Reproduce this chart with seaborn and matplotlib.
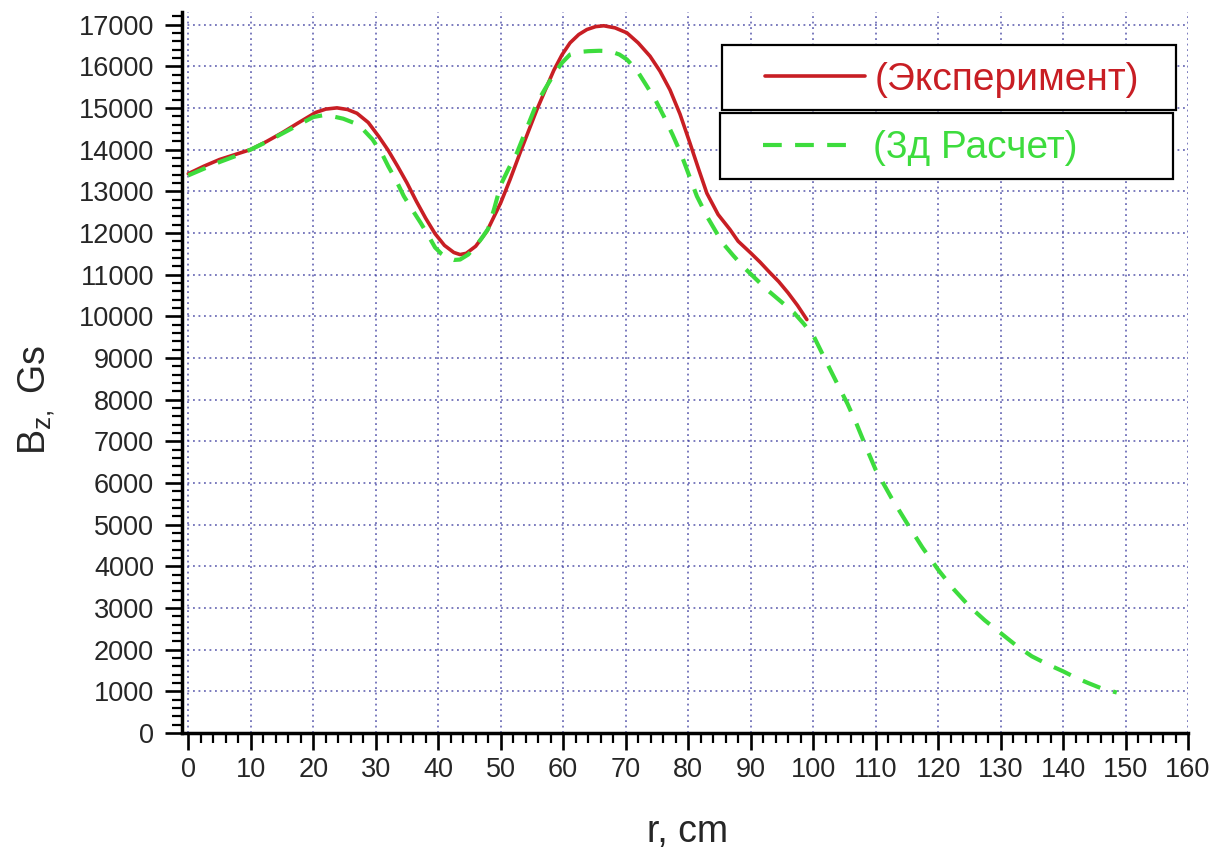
import matplotlib
matplotlib.use("Agg")
import matplotlib.pyplot as plt
import matplotlib.patches as mpatches
from matplotlib.ticker import MultipleLocator, FuncFormatter
import pandas as pd
import seaborn as sns

# ---- data ----
exp_r = [0, 2.5, 5, 7.5, 10, 12.5, 15, 17.5, 20.4, 22, 23.8, 25.5, 27, 28.8,
         30.5, 32, 33.5, 35, 36.5, 38, 39.5, 41, 42.5, 43.5, 44.5, 46, 47.8,
         50, 51.5, 53.1, 54.5, 55.8, 57.2, 58.5, 59.8, 61.1, 62.5, 63.8, 65.2,
         66.5, 68.3, 70.2, 72, 73.9, 75.5, 77.1, 78.7, 80.3, 81.7, 83, 84.8,
         86.7, 88, 90, 91.5, 93, 94.5, 96, 97.5, 99]
exp_b = [13420, 13600, 13760, 13880, 14000, 14190, 14400, 14630, 14890, 14970,
         15000, 14960, 14870, 14650, 14310, 13980, 13600, 13200, 12760, 12350,
         11980, 11700, 11530, 11480, 11510, 11680, 12040, 12720, 13280, 13920,
         14460, 14960, 15450, 15900, 16270, 16560, 16760, 16880, 16950, 16970,
         16920, 16800, 16560, 16240, 15880, 15430, 14850, 14150, 13520, 12950,
         12440, 12080, 11800, 11520, 11300, 11060, 10830, 10560, 10260, 9920]

calc_r = [0, 2.5, 5, 7.5, 10, 12.5, 15, 17.5, 20, 21.5, 23, 24.8, 26.5, 28,
          29.5, 31, 32, 33.3, 34.5, 36, 37.2, 38.4, 39.5, 40.5, 41.5, 42.5, 43.5,
          44.8, 46, 47, 48, 49, 50, 51.3, 52.6, 54.2, 55.8, 57.2, 58.5, 59.8,
          61.1, 62.5, 64, 65.8, 67.5, 69, 70.2, 71.8, 73.4, 74.8, 76.1, 77.5,
          78.8, 80.1, 81.4, 83, 85.5, 87.2, 89, 90.8, 92.6, 94.8, 96.9, 98.5,
          100.1, 102.3, 103.8, 105.5, 107, 108.5, 110, 112.5, 115, 117.5, 120,
          122.5, 125, 127.5, 130, 132.5, 135, 137.5, 140, 142, 144, 146, 148.6]
calc_b = [13380, 13540, 13700, 13840, 14000, 14180, 14380, 14580, 14780, 14820,
          14800, 14740, 14640, 14480, 14240, 13900, 13600, 13250, 12880, 12520,
          12240, 11940, 11650, 11500, 11400, 11350, 11360, 11480, 11680, 11880,
          12100, 12600, 13150, 13550, 13920, 14520, 15120, 15480, 15800, 16080,
          16280, 16340, 16360, 16370, 16360, 16280, 16160, 15900, 15520, 15180,
          14800, 14360, 13920, 13400, 12880, 12400, 11760, 11460, 11160, 10900,
          10640, 10360, 10090, 9820, 9520, 8850, 8400, 7900, 7400, 6850, 6320,
          5650, 5040, 4450, 3920, 3450, 3040, 2700, 2400, 2100, 1840, 1650, 1480,
          1330, 1200, 1080, 970]

label_exp = "(Эксперимент)"
label_calc = "(3д Расчет)"
x_label = "r, cm"
y_label = r"B$_{\mathregular{z,}}$ Gs"

RED = "#c81e24"
GREEN = "#3ddc3d"
GRID = "#3b3b9e"

sns.set_style("white")
plt.rcParams["font.family"] = ["Liberation Sans", "DejaVu Sans"]
plt.rcParams["mathtext.fontset"] = "custom"
plt.rcParams["mathtext.rm"] = "Liberation Sans"
plt.rcParams["mathtext.it"] = "Liberation Sans"
plt.rcParams["lines.solid_capstyle"] = "round"
plt.rcParams["lines.solid_joinstyle"] = "round"
plt.rcParams["lines.dash_joinstyle"] = "round"

fig = plt.figure(figsize=(12.24, 8.52), dpi=100)
ax = fig.add_axes([0.1487, 0.1397, 0.8219, 0.8462])

df_exp = pd.DataFrame({"r": exp_r, "B": exp_b})
df_calc = pd.DataFrame({"r": calc_r, "B": calc_b})

sns.lineplot(data=df_exp, x="r", y="B", ax=ax, color=RED, linewidth=2.6,
             sort=False, zorder=3)
sns.lineplot(data=df_calc, x="r", y="B", ax=ax, color=GREEN, linewidth=3.0,
             linestyle=(0, (4.5, 3.2)), sort=False, zorder=3)
line_exp, line_calc = ax.lines[0], ax.lines[1]

ax.set_xlim(-1, 160)
ax.set_ylim(0, 17300)

ax.xaxis.set_major_locator(MultipleLocator(10))
ax.xaxis.set_minor_locator(MultipleLocator(2))
ax.yaxis.set_major_locator(MultipleLocator(1000))
ax.yaxis.set_minor_locator(MultipleLocator(200))
ax.yaxis.set_major_formatter(FuncFormatter(lambda v, p: f"{int(round(v))}"))
ax.xaxis.set_major_formatter(FuncFormatter(lambda v, p: f"{int(round(v))}"))

ax.grid(True, which="major", color=GRID, linestyle=(0, (1.2, 2.4)),
        linewidth=1.1, alpha=0.85)
ax.set_axisbelow(True)

ax.tick_params(which="both", bottom=True, left=True, top=False, right=False,
               direction="out", color="black")
ax.tick_params(which="major", length=12, width=1.9, labelsize=19.5)
ax.tick_params(which="minor", length=7, width=1.6)
ax.tick_params(axis="x", which="major", pad=5)
ax.tick_params(axis="y", which="major", pad=8)

for s in ["top", "right"]:
    ax.spines[s].set_visible(False)
for s in ["left", "bottom"]:
    ax.spines[s].set_linewidth(2.5)
    ax.spines[s].set_color("black")

ax.set_xlabel(x_label, fontsize=27)
ax.set_ylabel(y_label, fontsize=27)
ax.xaxis.set_label_coords(0.503, -0.112)
ax.yaxis.set_label_coords(-0.124, 0.462)

# legend boxes (two separate framed boxes with shadows)
for (x0, y0, w, h) in [(0.5368, 0.8641, 0.4513, 0.0902),
                       (0.5348, 0.7684, 0.4503, 0.0915)]:
    rect = mpatches.Rectangle((x0, y0), w, h, transform=ax.transAxes,
                              facecolor="white", edgecolor="black",
                              linewidth=1.6, zorder=5)
    shadow = mpatches.Shadow(rect, 2.5, -2.5, shade=0.6)
    shadow.set_zorder(4.9)
    ax.add_patch(shadow)
    ax.add_patch(rect)

leg1 = ax.legend(handles=[line_exp], labels=[label_exp], loc="center left",
                 bbox_to_anchor=(0.5795, 0.9057), frameon=False, fontsize=28,
                 handlelength=2.56, handletextpad=0.26, borderpad=0,
                 borderaxespad=0, labelcolor=RED)
leg1.set_zorder(6)
ax.add_artist(leg1)
leg2 = ax.legend(handles=[line_calc], labels=[label_calc], loc="center left",
                 bbox_to_anchor=(0.5775, 0.811), frameon=False, fontsize=28,
                 handlelength=2.29, handletextpad=0.54, borderpad=0,
                 borderaxespad=0, labelcolor=GREEN)
leg2.set_zorder(6)

fig.savefig("out.png", dpi=100)
